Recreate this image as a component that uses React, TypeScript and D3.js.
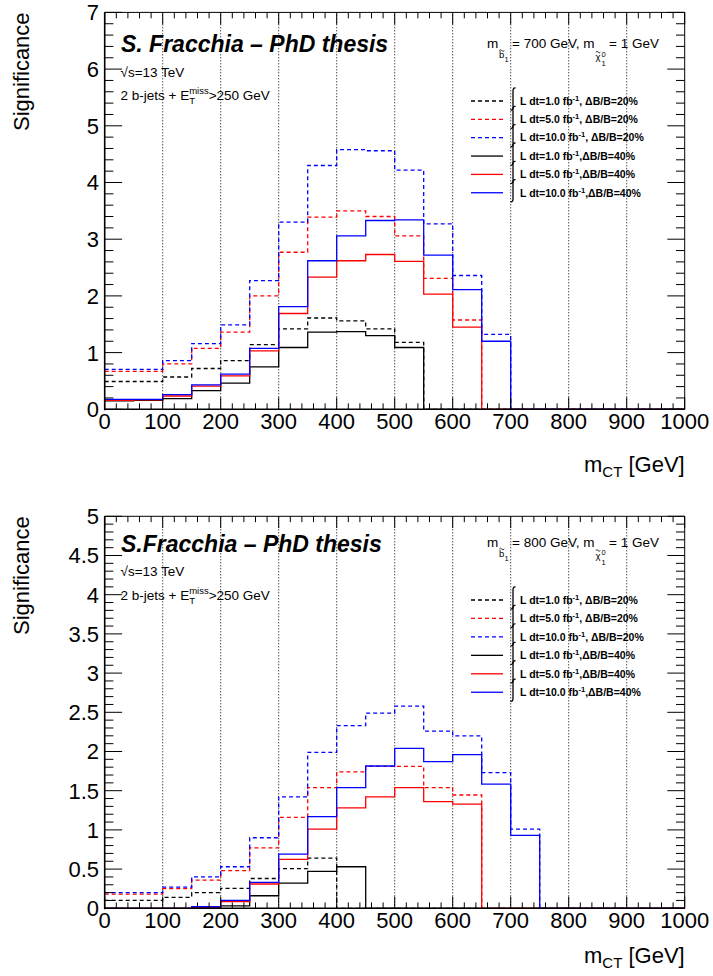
import React from 'react';
import * as d3 from 'd3';

// ---------- data ----------
const binEdges = [0, 50, 100, 150, 200, 250, 300, 350, 400, 450, 500, 550, 600, 650, 700, 750, 800, 850, 900, 950, 1000];
const xTickLabels = ['0', '100', '200', '300', '400', '500', '600', '700', '800', '900', '1000'];
const xTickValues = [0, 100, 200, 300, 400, 500, 600, 700, 800, 900, 1000];
const topYTickLabels = ['0', '1', '2', '3', '4', '5', '6', '7'];
const topYTickValues = [0, 1, 2, 3, 4, 5, 6, 7];
const bottomYTickLabels = ['0', '0.5', '1', '1.5', '2', '2.5', '3', '3.5', '4', '4.5', '5'];
const bottomYTickValues = [0, 0.5, 1, 1.5, 2, 2.5, 3, 3.5, 4, 4.5, 5];

// Top panel: m(sbottom) = 700 GeV
const top_L1_B20 = [0.49, 0.49, 0.57, 0.72, 0.86, 1.14, 1.42, 1.61, 1.56, 1.42, 1.18, 0, 0, 0, 0, 0, 0, 0, 0, 0];
const top_L5_B20 = [0.67, 0.67, 0.80, 1.075, 1.36, 2.0, 2.77, 3.39, 3.50, 3.40, 3.06, 2.31, 1.575, 0, 0, 0, 0, 0, 0, 0];
const top_L10_B20 = [0.705, 0.705, 0.86, 1.16, 1.49, 2.27, 3.30, 4.30, 4.58, 4.56, 4.22, 3.27, 2.36, 1.32, 0, 0, 0, 0, 0, 0];
const top_L1_B40 = [0.15, 0.16, 0.19, 0.33, 0.46, 0.75, 1.09, 1.36, 1.37, 1.30, 1.09, 0, 0, 0, 0, 0, 0, 0, 0, 0];
const top_L5_B40 = [0.16, 0.165, 0.235, 0.41, 0.59, 1.03, 1.69, 2.33, 2.62, 2.73, 2.61, 2.03, 1.45, 0, 0, 0, 0, 0, 0, 0];
const top_L10_B40 = [0.175, 0.175, 0.26, 0.43, 0.62, 1.075, 1.81, 2.62, 3.06, 3.33, 3.34, 2.72, 2.11, 1.20, 0, 0, 0, 0, 0, 0];

// Bottom panel: m(sbottom) = 800 GeV
const bot_L1_B20 = [0.10, 0.10, 0.14, 0.20, 0.255, 0.38, 0.505, 0.64, 0, 0, 0, 0, 0, 0, 0, 0, 0, 0, 0, 0];
const bot_L5_B20 = [0.18, 0.18, 0.25, 0.36, 0.48, 0.77, 1.16, 1.54, 1.74, 1.81, 1.81, 1.54, 1.445, 0, 0, 0, 0, 0, 0, 0];
const bot_L10_B20 = [0.20, 0.20, 0.27, 0.40, 0.53, 0.90, 1.42, 1.99, 2.33, 2.49, 2.58, 2.26, 2.20, 1.73, 1.01, 0, 0, 0, 0, 0];
const bot_L1_B40 = [0, 0, 0, 0, 0.03, 0.16, 0.32, 0.47, 0.53, 0, 0, 0, 0, 0, 0, 0, 0, 0, 0, 0];
const bot_L5_B40 = [0, 0, 0, 0.01, 0.085, 0.31, 0.625, 1.01, 1.28, 1.42, 1.54, 1.36, 1.33, 0, 0, 0, 0, 0, 0, 0];
const bot_L10_B40 = [0, 0, 0, 0.02, 0.10, 0.33, 0.69, 1.17, 1.54, 1.815, 2.04, 1.87, 1.96, 1.585, 0.93, 0, 0, 0, 0, 0];

const legendLumi = ['L dt=1.0 fb', 'L dt=5.0 fb', 'L dt=10.0 fb', 'L dt=1.0 fb', 'L dt=5.0 fb', 'L dt=10.0 fb'];
const legendUnc = [', \u0394B/B=20%', ', \u0394B/B=20%', ', \u0394B/B=20%', ',\u0394B/B=40%', ',\u0394B/B=40%', ',\u0394B/B=40%'];
const seriesColors = ['#000000', '#ff0000', '#0000ff', '#000000', '#ff0000', '#0000ff'];
const seriesDashed = [true, true, true, false, false, false];

const FONT = '"Liberation Sans", Arial, Helvetica, sans-serif';

type PanelProps = {
  top: number;
  bottom: number;
  yMax: number;
  yMinor: number;
  yTickValues: number[];
  yTickLabels: string[];
  series: number[][];
  title: string;
  massValue: string;
  titleY: number;
  sqrtY: number;
  jetsY: number;
  massY: number;
  legendY0: number;
  legendStep: number;
  xLabelY: number;
  xTickLabelY: number;
};

function Panel(p: PanelProps) {
  const left = 104.7;
  const right = 684.7;
  const x = d3.scaleLinear().domain([0, 1000]).range([left, right]);
  const y = d3.scaleLinear().domain([0, p.yMax]).range([p.bottom, p.top]);
  const plotH = p.bottom - p.top;
  const plotW = right - left;
  const xMajLen = 0.03 * plotH;
  const yMajLen = 0.03 * plotW;

  const line = d3
    .line<[number, number]>()
    .x((d) => x(d[0]))
    .y((d) => y(d[1]))
    .curve(d3.curveStepAfter);

  const pathFor = (vals: number[]) => {
    const pts: [number, number][] = vals.map((v, i) => [binEdges[i], v]);
    pts.push([binEdges[binEdges.length - 1], vals[vals.length - 1]]);
    return line(pts) || '';
  };

  const xMinorTicks = d3.range(0, 1001, 20);
  const yMinorTicks = d3.range(0, p.yMax + 1e-9, p.yMinor);

  const legendX0 = 471;
  const legendX1 = 503;
  const integralX = 513;
  const textX = 520;
  const my = p.massY;

  return (
    <g fontFamily={FONT}>
      {/* grid */}
      {xTickValues.slice(1, -1).map((v) => (
        <line key={'g' + v} x1={x(v)} x2={x(v)} y1={p.bottom} y2={p.top} stroke="#000" strokeWidth={1} strokeDasharray="1 2" />
      ))}
      {/* histograms */}
      {p.series.map((vals, i) => (
        <path
          key={'s' + i}
          d={pathFor(vals)}
          fill="none"
          stroke={seriesColors[i]}
          strokeWidth={1.3}
          strokeDasharray={seriesDashed[i] ? '4 3' : undefined}
        />
      ))}
      {/* frame */}
      <line x1={left} x2={right} y1={p.top} y2={p.top} stroke="#000" strokeWidth={1} />
      <line x1={right} x2={right} y1={p.top} y2={p.bottom} stroke="#000" strokeWidth={1} />
      <line x1={left} x2={left} y1={p.top} y2={p.bottom + 1} stroke="#000" strokeWidth={1.6} />
      <line x1={left} x2={right} y1={p.bottom} y2={p.bottom} stroke="#000" strokeWidth={1.6} />
      {/* x ticks */}
      {xMinorTicks.map((v) => {
        const major = v % 100 === 0;
        const len = major ? xMajLen : xMajLen / 2;
        return (
          <g key={'xt' + v}>
            <line x1={x(v)} x2={x(v)} y1={p.bottom} y2={p.bottom - len} stroke="#000" strokeWidth={1} />
            <line x1={x(v)} x2={x(v)} y1={p.top} y2={p.top + len} stroke="#000" strokeWidth={1} />
          </g>
        );
      })}
      {/* y ticks */}
      {yMinorTicks.map((v, i) => {
        const major = p.yTickValues.some((t) => Math.abs(t - v) < 1e-6);
        const len = major ? yMajLen : yMajLen / 2;
        return (
          <g key={'yt' + i}>
            <line x1={left} x2={left + len} y1={y(v)} y2={y(v)} stroke="#000" strokeWidth={1} />
            <line x1={right} x2={right - len} y1={y(v)} y2={y(v)} stroke="#000" strokeWidth={1} />
          </g>
        );
      })}
      {/* tick labels */}
      {xTickValues.map((v, i) => (
        <text key={'xl' + v} x={x(v)} y={p.xTickLabelY} fontSize={22} textAnchor="middle">
          {xTickLabels[i]}
        </text>
      ))}
      {p.yTickValues.map((v, i) => (
        <text key={'yl' + v} x={99} y={y(v)} dy="0.36em" fontSize={22} textAnchor="end">
          {p.yTickLabels[i]}
        </text>
      ))}
      {/* axis titles */}
      <text transform={`translate(29,${p.top}) rotate(-90)`} fontSize={22} textAnchor="end">
        Significance
      </text>
      <text x={right} y={p.xLabelY} fontSize={22} textAnchor="end">
        m<tspan dy={5} fontSize={15}>CT</tspan>
        <tspan dy={-5}> [GeV]</tspan>
      </text>
      {/* annotations */}
      <text x={121} y={p.titleY} fontSize={23} fontWeight="bold" fontStyle="italic">
        {p.title}
      </text>
      <text x={120.5} y={p.sqrtY} fontSize={13.5}>
        {'\u221As=13 TeV'}
      </text>
      <text x={120.5} y={p.jetsY} fontSize={13.5}>
        2 b-jets + E
        <tspan dy={-6} fontSize={9.5}>miss</tspan>
        <tspan dx={-19.5} dy={10} fontSize={9.5}>T</tspan>
        <tspan dx={13.7} dy={-4}>{'>250 GeV'}</tspan>
      </text>
      {/* mass label, pieces placed individually */}
      <text x={487} y={my} fontSize={13.5}>m</text>
      <text x={499} y={my + 10} fontSize={9.5}>b</text>
      <path d={`M ${499.3},${my + 2.3} q 1.2,-1.6 2.5,0 t 2.5,0`} fill="none" stroke="#000" strokeWidth={0.8} />
      <text x={504.6} y={my + 14} fontSize={7.5}>1</text>
      <text x={512} y={my} fontSize={13.5}>{`= ${p.massValue} GeV, m`}</text>
      <text x={595.5} y={my + 12} fontSize={9.5}>{'\u03C7'}</text>
      <path d={`M ${595.8},${my + 3.8} q 1.1,-1.5 2.3,0 t 2.3,0`} fill="none" stroke="#000" strokeWidth={0.8} />
      <text x={601.5} y={my + 8.5} fontSize={7.5}>0</text>
      <text x={601.5} y={my + 18} fontSize={7.5}>1</text>
      <text x={609} y={my} fontSize={13.5}>= 1 GeV</text>
      {/* legend */}
      {legendLumi.map((lab, i) => {
        const yc = p.legendY0 + i * p.legendStep;
        return (
          <g key={'leg' + i}>
            <line
              x1={legendX0}
              x2={legendX1}
              y1={yc}
              y2={yc}
              stroke={seriesColors[i]}
              strokeWidth={1.3}
              strokeDasharray={seriesDashed[i] ? '4 3' : undefined}
            />
            <path
              d={`M ${integralX + 2.5},${yc - 13} Q ${integralX},${yc - 13.5} ${integralX},${yc - 10} L ${integralX},${yc + 6} Q ${integralX},${yc + 9.5} ${integralX - 2.5},${yc + 9}`}
              fill="none"
              stroke="#000"
              strokeWidth={1.3}
            />
            <text x={textX} y={yc} dy="0.36em" fontSize={10.5} fontWeight="bold">
              {lab}
              <tspan dy={-4} fontSize={7.5}>-1</tspan>
              <tspan dy={4}>{legendUnc[i]}</tspan>
            </text>
          </g>
        );
      })}
    </g>
  );
}

export default function App() {
  return (
    <svg
      width={713}
      height={976}
      viewBox="0 0 713 976"
      style={{ position: 'absolute', left: 0, top: 0, background: '#fff' }}
    >
      <rect x={0} y={0} width={713} height={976} fill="#fff" />
      <Panel
        top={12.4}
        bottom={409.3}
        yMax={7}
        yMinor={0.2}
        yTickValues={topYTickValues}
        yTickLabels={topYTickLabels}
        series={[top_L1_B20, top_L5_B20, top_L10_B20, top_L1_B40, top_L5_B40, top_L10_B40]}
        title={'S. Fracchia \u2013 PhD thesis'}
        massValue="700"
        titleY={51.7}
        sqrtY={76.7}
        jetsY={100}
        massY={48.3}
        legendY0={101}
        legendStep={18.35}
        xLabelY={472}
        xTickLabelY={429}
      />
      <Panel
        top={516.3}
        bottom={908.3}
        yMax={5}
        yMinor={0.1}
        yTickValues={bottomYTickValues}
        yTickLabels={bottomYTickLabels}
        series={[bot_L1_B20, bot_L5_B20, bot_L10_B20, bot_L1_B40, bot_L5_B40, bot_L10_B40]}
        title={'S.Fracchia \u2013 PhD thesis'}
        massValue="800"
        titleY={551.5}
        sqrtY={576}
        jetsY={600}
        massY={546.7}
        legendY0={600}
        legendStep={18.45}
        xLabelY={963}
        xTickLabelY={928}
      />
    </svg>
  );
}
